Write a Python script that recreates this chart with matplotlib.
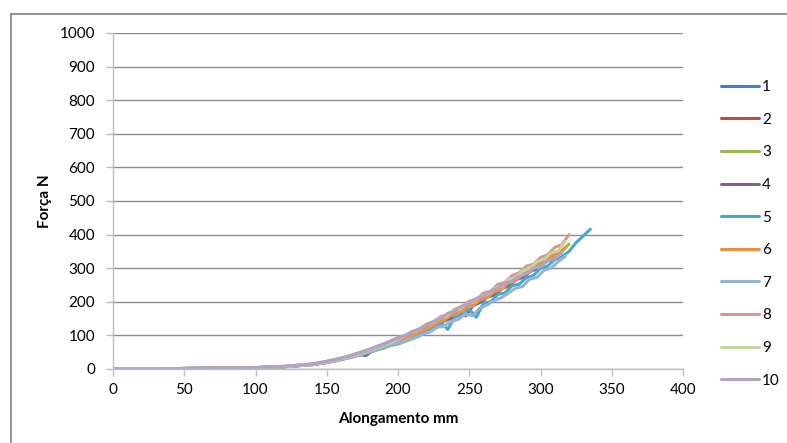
import matplotlib
matplotlib.use("Agg")
import matplotlib.pyplot as plt
from matplotlib.lines import Line2D

plt.rcParams['font.family'] = ['Lato', 'DejaVu Sans']

# Alongamento (mm) grids
along_a = [0, 25, 50, 75, 100, 120, 140, 150, 155, 160, 165, 170, 175, 180, 185,
           190, 195, 200, 205, 210, 215, 220, 225, 230, 235, 240, 245, 250, 255,
           260, 265, 270, 275, 280, 285, 290, 295, 300, 305, 310, 315, 320, 325,
           330, 335]
along_b = [0, 25, 50, 75, 100, 120, 140, 152.5, 157.5, 162.5, 167.5, 172.5, 177.5,
           182.5, 187.5, 192.5, 197.5, 202.5, 207.5, 212.5, 217.5, 222.5, 227.5,
           232.5, 237.5, 242.5, 247.5, 252.5, 257.5, 262.5, 267.5, 272.5, 277.5,
           282.5, 287.5, 292.5, 297.5, 302.5, 307.5, 312.5, 317.5, 322.5]

# Força (N) per specimen
f1 = [0, 0.5, 1.5, 2.5, 4, 7, 13, 20, 24, 29, 35, 40, 47, 53, 61, 67, 76,
      80, 91, 95, 110, 116, 131, 136, 153, 158, 176, 180, 198, 204, 224, 226,
      249, 255, 276, 280, 302, 306, 330, 333, 355]
f2 = [0, 0.5, 1.5, 2.5, 4, 7, 14, 23, 28, 33, 38, 45, 51, 58, 65, 72, 80,
      90, 98, 108, 119, 126, 140, 148, 162, 170, 186, 190, 210, 214, 234, 238,
      260, 264, 286, 290, 312, 318, 338, 348]
f3 = [0, 0.5, 1.5, 2.5, 4, 6, 13, 19, 23, 28, 33, 38, 44, 50, 56, 62, 70,
      74, 82, 90, 98, 112, 122, 138, 146, 162, 172, 186, 194, 212, 218, 238,
      244, 262, 272, 290, 298, 318, 322, 344, 350, 372]
f4 = [0, 0.5, 1.5, 2.5, 4, 7, 14, 22, 26, 31, 36, 43, 40, 56, 62, 70, 77,
      84, 92, 102, 110, 124, 130, 146, 150, 168, 158, 188, 198, 214, 220, 240,
      246, 266, 272, 290, 298, 318, 326]
f5 = [0, 0.5, 1.5, 2.5, 4, 7, 13, 20, 24, 29, 34, 39, 45, 52, 58, 65, 72,
      78, 84, 96, 100, 116, 120, 138, 118, 156, 160, 178, 154, 196, 200, 222,
      226, 248, 252, 272, 278, 300, 306, 326, 334, 350, 376, 396, 416]
f6 = [0, 0.5, 1.5, 2.5, 4, 7, 14, 22, 27, 32, 37, 43, 50, 56, 64, 71, 79,
      86, 96, 104, 116, 124, 138, 146, 160, 166, 182, 188, 206, 212, 230, 236,
      256, 262, 282, 288, 308, 314, 334, 342, 362]
f7 = [0, 0.5, 1.5, 2.5, 4, 7, 13, 21, 25, 30, 35, 41, 47, 54, 61, 68, 75,
      80, 88, 94, 104, 110, 124, 128, 142, 148, 164, 158, 182, 190, 204, 212,
      226, 240, 246, 268, 272, 294, 300, 320, 336]
f8 = [0, 0.5, 1.5, 3, 4.5, 8, 15, 23, 28, 33, 38, 45, 52, 59, 67, 75, 84,
      94, 100, 112, 118, 134, 140, 156, 162, 178, 186, 202, 208, 226, 232, 252,
      258, 278, 286, 306, 312, 332, 340, 362, 370, 400]
f9 = [0, 0.5, 1.5, 2.5, 4, 7, 14, 23, 28, 33, 39, 45, 52, 59, 67, 75, 84,
      94, 106, 112, 126, 134, 148, 154, 170, 176, 192, 198, 216, 222, 240, 246,
      266, 272, 292, 298, 320, 326, 346, 352, 380]
f10 = [0, 0.5, 1.5, 2.5, 4.5, 8, 15, 23, 27, 32, 38, 44, 51, 58, 66, 74, 83,
       92, 100, 110, 120, 130, 142, 150, 166, 172, 188, 194, 210, 218, 232, 240,
       256, 262, 276, 284, 300, 304, 322, 328, 346]

series_labels = ['1', '2', '3', '4', '5', '6', '7', '8', '9', '10']
series_forces = [f1, f2, f3, f4, f5, f6, f7, f8, f9, f10]
series_grids = [along_a, along_b, along_a, along_b, along_a,
                along_b, along_b, along_a, along_b, along_a]
colors = ['#4A7EBB', '#BE4B48', '#98B954', '#7D60A0', '#46AAC5',
          '#F28F3E', '#95B3D7', '#D99694', '#C3D69B', '#B3A2C7']

fig = plt.figure(figsize=(7.87, 4.43), dpi=100)
ax = fig.add_axes([113/787, 1 - 369/443, (683-113)/787, (369-33)/443])

for lab, fy, gx, c in zip(series_labels, series_forces, series_grids, colors):
    ax.plot(gx[:len(fy)], fy, color=c, lw=2.2, label=lab,
            solid_joinstyle='round', solid_capstyle='round')

ax.set_xlim(0, 400)
ax.set_ylim(0, 1000)
ax.set_xticks(range(0, 401, 50))
ax.set_yticks(range(0, 1001, 100))
ax.yaxis.grid(True, color='#8C8C8C', lw=1.0)
ax.set_axisbelow(True)
for s in ['top', 'right']:
    ax.spines[s].set_visible(False)
for s in ['left', 'bottom']:
    ax.spines[s].set_color('#BFBFBF')
    ax.spines[s].set_linewidth(1.0)
ax.tick_params(axis='both', colors='#BFBFBF', labelcolor='#000000',
               labelsize=11, length=5, width=1.0, direction='out')
ax.tick_params(axis='y', pad=8)
ax.tick_params(axis='x', pad=5)

fig.text(45/787, 1 - 201/443, 'Força N', rotation=90, ha='center', va='center',
         fontsize=11, fontweight='bold')
fig.text(398/787, 1 - 419/443, 'Alongamento mm', ha='center', va='center',
         fontsize=11, fontweight='bold')

fig.legend(loc='upper left', bbox_to_anchor=(721/787, 1 - 80/443),
           frameon=False, fontsize=11, handlelength=2.5, handletextpad=0.2,
           labelspacing=1.22, borderpad=0, borderaxespad=0)

# outer chart frame (partially visible)
fig.add_artist(Line2D([11/787, 11/787], [0, 1 - 14/443], color='#8C8C8C', lw=1.3))
fig.add_artist(Line2D([11/787, 1], [1 - 14/443, 1 - 14/443], color='#8C8C8C', lw=1.3))

fig.savefig('out.png', dpi=100)
